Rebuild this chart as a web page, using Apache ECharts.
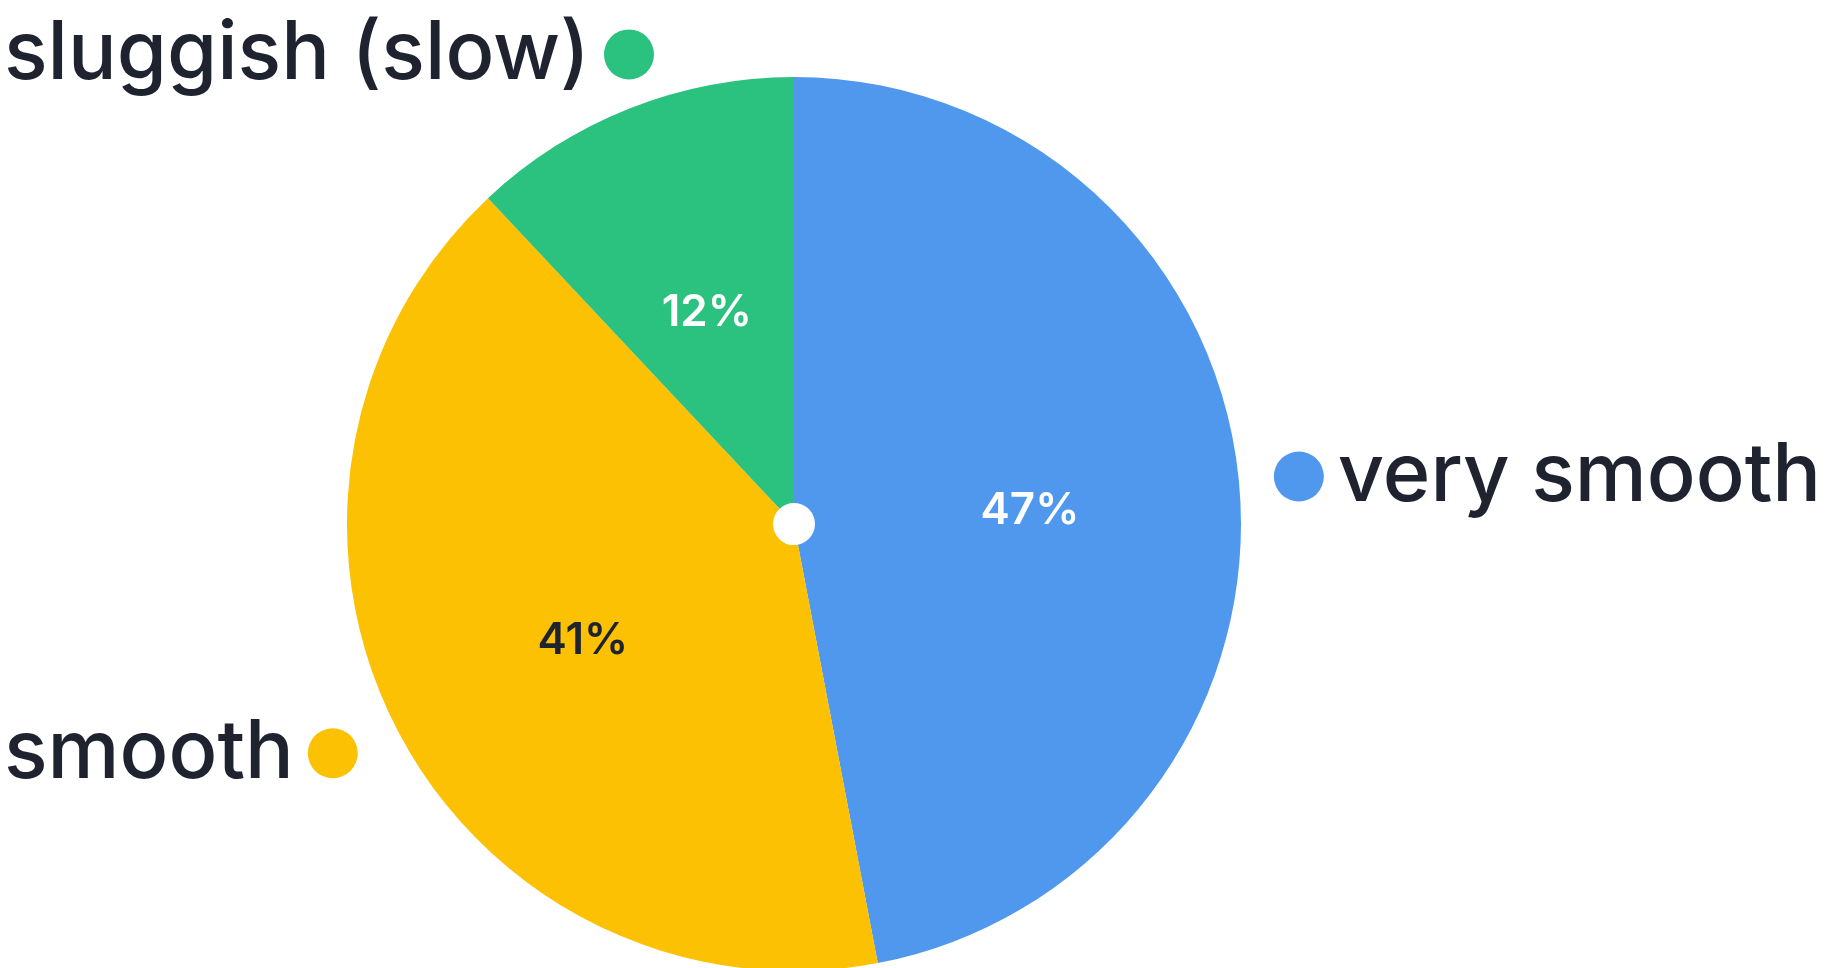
<!DOCTYPE html>
<html>
<head>
<meta charset="utf-8">
<script src="https://cdn.jsdelivr.net/npm/echarts@6/dist/echarts.min.js"></script>
<style>html,body{margin:0;padding:0;background:#fff;}#c{width:1825px;height:968px;}</style>
</head>
<body>
<div id="c"></div>
<script>
const categories = ['very smooth', 'smooth', 'sluggish (slow)'];
const values = [47, 41, 12];
const colors = ['#4f98ee', '#fbc102', '#2bc17e'];
const innerLabelColors = ['#ffffff', '#1f2330', '#ffffff'];

const total = values.reduce((a, b) => a + b, 0);
let cum = 0;
const sides = values.map(v => { const mid = (cum + v / 2) / total; cum += v; return mid < 0.5 ? 'right' : 'left'; });

const FONT = 'Inter';
const innerData = categories.map((name, i) => ({
  name, value: values[i],
  itemStyle: { color: colors[i] },
  label: { color: innerLabelColors[i] }
}));
const outerData = categories.map((name, i) => ({
  name, value: values[i],
  label: {
    formatter: sides[i] === 'right' ? '{dot|}{gap|}{t|{b}}' : '{t|{b}}{gap|}{dot|}',
    rich: {
      dot: { width: 50, height: 50, borderRadius: 25, backgroundColor: colors[i] },
      gap: { width: 14 },
      t: { fontFamily: FONT, fontSize: 81, fontWeight: 500, color: '#1f2330' }
    }
  }
}));

const chart = echarts.init(document.getElementById('c'), null, { renderer: 'canvas' });
chart.setOption({
  backgroundColor: '#ffffff',
  animation: false,
  series: [
    {
      type: 'pie',
      center: [794, 524],
      radius: [21, 447],
      startAngle: 90,
      clockwise: true,
      avoidLabelOverlap: false,
      silent: true,
      label: {
        show: true, position: 'inside',
        formatter: '{c}%',
        fontFamily: FONT, fontSize: 44, fontWeight: 600,
        offset: [0, 9]
      },
      labelLine: { show: false },
      data: innerData
    },
    {
      type: 'pie',
      center: [794, 524],
      radius: [21, 447],
      startAngle: 90,
      clockwise: true,
      avoidLabelOverlap: false,
      silent: true,
      itemStyle: { color: 'transparent' },
      label: {
        show: true, position: 'outside',
        alignTo: 'edge', edgeDistance: 4
      },
      labelLine: { show: false, length: 58, length2: 0 },
      data: outerData
    }
  ]
});
</script>
</body>
</html>
